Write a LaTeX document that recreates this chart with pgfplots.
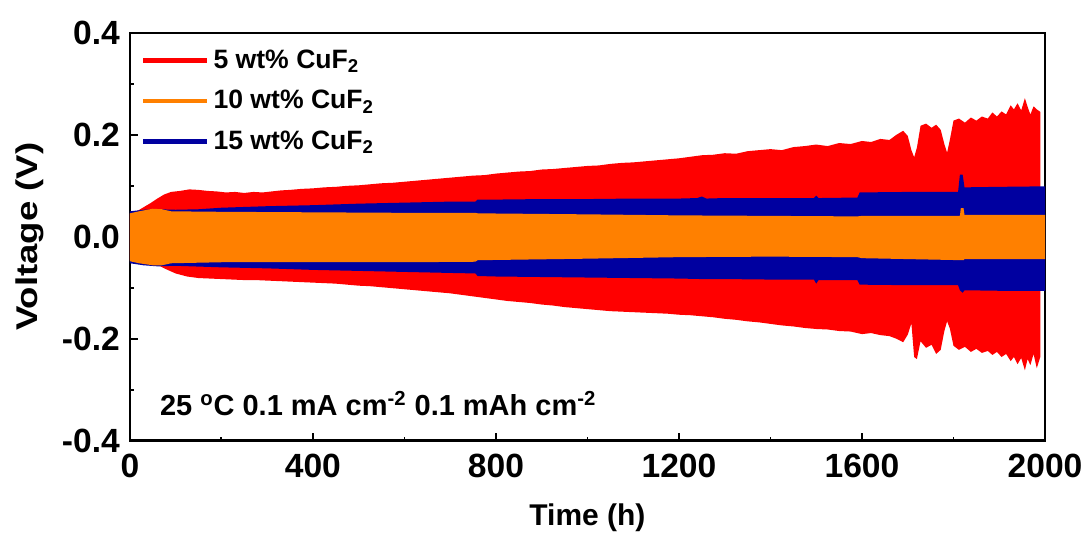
\documentclass[border=0pt]{standalone}
\usepackage{fontspec}
\setmainfont{Liberation Sans}
\usepackage{pgfplots}
\pgfplotsset{compat=1.18}
\usetikzlibrary{calc}
\definecolor{cred}{RGB}{255,0,0}
\definecolor{corange}{RGB}{255,128,0}
\definecolor{cblue}{RGB}{0,0,160}
\begin{document}
\begin{tikzpicture}
\begin{axis}[
  scale only axis,
  width=458pt, height=204pt,
  xmin=0, xmax=2000, ymin=-0.4, ymax=0.4,
  xtick={0,400,800,1200,1600,2000},
  xticklabels={0,400,800,1200,1600,2000},
  ytick={-0.4,-0.2,0,0.2,0.4},
  yticklabels={-0.4,-0.2,0.0,0.2,0.4},
  minor x tick num=1, minor y tick num=1,
  xtick pos=bottom, ytick pos=left,
  tick align=inside,
  major tick length=4pt, minor tick length=2pt,
  every tick/.style={black, line width=0.9pt},
  axis line style={line width=1.2pt},
  tick label style={font=\bfseries\fontsize{16.8}{19}\selectfont},
  xticklabel style={yshift=-3pt},
  yticklabel style={xshift=-1.5pt},
  xlabel={Time (h)},
  ylabel={\scalebox{1.22}[1]{Voltage (V)}},
  label style={font=\bfseries\fontsize{15}{18}\selectfont},
  xlabel style={at={(axis description cs:0.5,-0.19)}, anchor=center},
  ylabel style={at={(axis description cs:-0.109,0.5)}, anchor=center},
  legend style={draw=none, fill=none, inner sep=0pt,
    at={(axis description cs:0.012,0.97)}, anchor=north west,
    font=\bfseries\fontsize{13.3}{15}\selectfont, row sep=5.5pt},
  legend cell align=left,
  legend image code/.code={\draw[#1] (0pt,0pt) -- (32pt,0pt);},
]
% 5 wt% CuF2: envelope, upper edge then lower edge back
\addplot[fill=cred, draw=none, forget plot] coordinates {
  (0,0.046) (15,0.050) (30,0.058) (45,0.066) (60,0.075) (75,0.083) (90,0.088)
  (110,0.090) (130,0.093) (150,0.092) (170,0.090) (190,0.089) (210,0.087)
  (230,0.088) (250,0.086) (270,0.088) (290,0.087) (310,0.089) (330,0.091)
  (350,0.092) (375,0.094) (400,0.095) (425,0.097) (450,0.098) (475,0.100)
  (500,0.101) (525,0.103) (550,0.105) (575,0.106) (600,0.108) (625,0.110)
  (650,0.112) (675,0.114) (700,0.116) (725,0.118) (750,0.120) (775,0.121)
  (800,0.124) (825,0.126) (850,0.128) (875,0.129) (900,0.132) (925,0.133)
  (950,0.135) (975,0.137) (1000,0.139) (1025,0.140) (1050,0.143) (1075,0.145)
  (1100,0.146) (1125,0.148) (1150,0.150) (1175,0.152) (1200,0.154) (1225,0.157)
  (1250,0.160) (1275,0.161) (1300,0.164) (1325,0.163) (1350,0.168) (1375,0.170)
  (1400,0.172) (1425,0.170) (1450,0.176) (1475,0.178) (1500,0.181) (1525,0.178)
  (1550,0.184) (1575,0.182) (1600,0.188) (1620,0.186) (1640,0.192) (1660,0.190)
  (1675,0.200) (1690,0.208) (1700,0.198) (1708,0.170) (1714,0.156) (1720,0.175)
  (1728,0.218) (1740,0.222) (1752,0.214) (1762,0.220) (1772,0.210) (1780,0.182)
  (1786,0.165) (1792,0.190) (1800,0.228) (1812,0.232) (1825,0.224) (1838,0.234)
  (1850,0.228) (1862,0.236) (1875,0.232) (1885,0.244) (1895,0.236) (1905,0.246)
  (1915,0.240) (1925,0.258) (1932,0.250) (1940,0.262) (1948,0.248) (1956,0.272)
  (1962,0.255) (1968,0.240) (1975,0.256) (1982,0.250) (1990,0.245)
  (1990,-0.235) (1982,-0.258) (1975,-0.230) (1968,-0.252) (1962,-0.240)
  (1956,-0.262) (1948,-0.238) (1940,-0.250) (1932,-0.236) (1925,-0.244)
  (1915,-0.230) (1905,-0.236) (1895,-0.226) (1885,-0.232) (1875,-0.224)
  (1862,-0.228) (1850,-0.220) (1838,-0.226) (1825,-0.216) (1812,-0.222)
  (1800,-0.214) (1792,-0.180) (1786,-0.166) (1780,-0.185) (1772,-0.222)
  (1762,-0.230) (1752,-0.212) (1740,-0.218) (1728,-0.205) (1720,-0.240)
  (1714,-0.236) (1708,-0.170) (1700,-0.192) (1690,-0.207) (1675,-0.200)
  (1660,-0.195) (1640,-0.193) (1620,-0.189) (1600,-0.191) (1575,-0.186)
  (1550,-0.185) (1525,-0.182) (1500,-0.181) (1475,-0.179) (1450,-0.176)
  (1425,-0.174) (1400,-0.171) (1375,-0.168) (1350,-0.166) (1325,-0.163)
  (1300,-0.161) (1275,-0.158) (1250,-0.156) (1225,-0.154) (1200,-0.153)
  (1175,-0.151) (1150,-0.150) (1125,-0.149) (1100,-0.148) (1075,-0.147)
  (1050,-0.146) (1025,-0.144) (1000,-0.142) (975,-0.140) (950,-0.138)
  (925,-0.135) (900,-0.133) (875,-0.130) (850,-0.128) (825,-0.126)
  (800,-0.123) (775,-0.120) (750,-0.117) (725,-0.114) (700,-0.111)
  (675,-0.109) (650,-0.107) (625,-0.105) (600,-0.103) (575,-0.101)
  (550,-0.099) (525,-0.097) (500,-0.096) (475,-0.094) (450,-0.092)
  (425,-0.091) (400,-0.090) (375,-0.089) (350,-0.088) (325,-0.087)
  (300,-0.086) (275,-0.085) (250,-0.085) (225,-0.084) (200,-0.083)
  (175,-0.082) (150,-0.081) (125,-0.078) (100,-0.072) (80,-0.064)
  (60,-0.055) (40,-0.050) (20,-0.048) (0,-0.046)
};
% 15 wt% CuF2
\addplot[fill=cblue, draw=none, forget plot] coordinates {
  (0,0.050) (30,0.053) (60,0.054) (100,0.053) (150,0.054) (200,0.057)
  (300,0.060) (400,0.062) (500,0.065) (600,0.067) (700,0.069) (755,0.069)
  (760,0.073) (800,0.073) (900,0.074) (1000,0.074) (1100,0.075) (1200,0.075)
  (1240,0.076) (1250,0.079) (1260,0.075) (1300,0.076) (1400,0.076) (1495,0.076)
  (1500,0.081) (1505,0.076) (1590,0.077) (1595,0.087) (1700,0.088) (1810,0.088)
  (1814,0.122) (1820,0.122) (1824,0.097) (1900,0.098) (2000,0.099)
  (2000,-0.106) (1900,-0.106) (1824,-0.105) (1820,-0.110) (1814,-0.105)
  (1810,-0.095) (1700,-0.095) (1595,-0.094) (1590,-0.085) (1505,-0.085)
  (1500,-0.092) (1495,-0.084) (1400,-0.084) (1300,-0.083) (1250,-0.083)
  (1200,-0.082) (1100,-0.081) (1000,-0.080) (900,-0.079) (800,-0.078)
  (760,-0.077) (755,-0.072) (700,-0.071) (600,-0.069) (500,-0.067)
  (400,-0.065) (300,-0.062) (200,-0.060) (100,-0.057) (60,-0.058)
  (30,-0.056) (0,-0.052)
};
% 10 wt% CuF2
\addplot[fill=corange, draw=none, forget plot] coordinates {
  (0,0.046) (20,0.050) (50,0.055) (70,0.054) (90,0.050) (200,0.049)
  (400,0.048) (600,0.047) (755,0.047) (760,0.046) (1000,0.044) (1200,0.042)
  (1400,0.041) (1590,0.040) (1600,0.041) (1814,0.041) (1816,0.056)
  (1822,0.056) (1824,0.043) (2000,0.043)
  (2000,-0.044) (1824,-0.044) (1822,-0.046) (1600,-0.042) (1590,-0.040)
  (1400,-0.039) (1200,-0.040) (1000,-0.043) (760,-0.046) (755,-0.049)
  (600,-0.050) (400,-0.050) (200,-0.050) (90,-0.052) (70,-0.056)
  (50,-0.056) (20,-0.052) (0,-0.048)
};
\addlegendimage{cred, line width=2.2pt}
\addlegendentry{5 wt\% CuF\textsubscript{2}}
\addlegendimage{corange, line width=2.2pt}
\addlegendentry{10 wt\% CuF\textsubscript{2}}
\addlegendimage{cblue, line width=2.2pt}
\addlegendentry{15 wt\% CuF\textsubscript{2}}
\node[anchor=base west, inner sep=0pt, font=\bfseries\fontsize{14.5}{17}\selectfont]
  at (axis cs:65,-0.351)
  {25 \textsuperscript{o}C 0.1 mA cm\textsuperscript{-2} 0.1 mAh cm\textsuperscript{-2}};
\end{axis}
\path ($(current axis.south west)+(-65pt,-48pt)$) rectangle ($(current axis.north east)+(21.5pt,16.5pt)$);
\end{tikzpicture}
\end{document}
